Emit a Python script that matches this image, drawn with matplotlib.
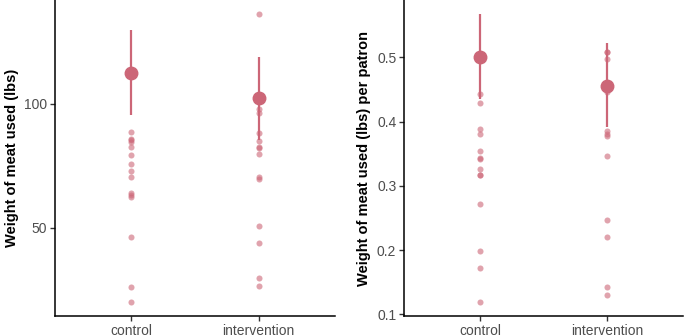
import matplotlib
matplotlib.use("Agg")
import matplotlib.pyplot as plt
import numpy as np

plt.rcParams['font.family'] = ['Liberation Sans', 'DejaVu Sans']

categories = ["control", "intervention"]

# Panel 1: weight of meat used (lbs)
w_control = [88.7, 86.0, 85.5, 84.4, 82.7, 79.5, 75.9, 73.0, 70.6, 64.0, 63.3, 62.6, 46.5, 26.2, 20.3]
w_intervention = [136.0, 97.7, 96.4, 88.3, 85.1, 82.3, 82.5, 79.6, 70.4, 69.8, 50.9, 44.1, 29.8, 26.6]
w_mean = [112.3, 102.4]
w_low = [95.3, 85.6]
w_high = [129.6, 118.8]

# Panel 2: weight of meat used (lbs) per patron
p_control = [0.443, 0.429, 0.388, 0.381, 0.354, 0.344, 0.342, 0.327, 0.317, 0.317, 0.272, 0.199, 0.172, 0.120]
p_intervention = [0.509, 0.508, 0.498, 0.446, 0.385, 0.381, 0.377, 0.347, 0.247, 0.220, 0.142, 0.130]
p_mean = [0.500, 0.4563]
p_low = [0.4355, 0.3914]
p_high = [0.567, 0.5224]

COL = "#CC6677"

fig = plt.figure(figsize=(6.85, 3.36), dpi=100)
ax1 = fig.add_axes([55/685, 20/336, 280/685, 316/336])
ax2 = fig.add_axes([404/685, 20/336, 279/685, 316/336])

def panel(ax, groups, means, lows, highs, ylabel, yticks, yticklabels):
    xs = np.arange(1, len(categories) + 1)
    for x, vals in zip(xs, groups):
        ax.scatter([x] * len(vals), vals, s=19, color=COL, alpha=0.6,
                   linewidths=0, zorder=2)
    means = np.array(means); lows = np.array(lows); highs = np.array(highs)
    ax.errorbar(xs, means, yerr=[means - lows, highs - means], fmt='o',
                color=COL, ecolor=COL, elinewidth=1.6, markersize=9,
                capsize=0, zorder=3)
    allv = np.concatenate([np.concatenate(groups), lows, highs])
    lo, hi = allv.min(), allv.max()
    pad = (hi - lo) * 0.05
    ax.set_ylim(lo - pad, hi + pad)
    ax.set_xlim(0.4, 2.6)
    ax.set_xticks(xs)
    ax.set_xticklabels(categories)
    ax.set_yticks(yticks)
    ax.set_yticklabels(yticklabels)
    ax.set_ylabel(ylabel, fontsize=10.5, fontweight='bold', labelpad=4)
    for s in ['top', 'right']:
        ax.spines[s].set_visible(False)
    for s in ['left', 'bottom']:
        ax.spines[s].set_linewidth(1.1)
        ax.spines[s].set_color('black')
    ax.tick_params(axis='both', labelsize=10, labelcolor='#4D4D4D',
                   color='#333333', length=3.5, width=1.0, pad=2)

panel(ax1, [w_control, w_intervention], w_mean, w_low, w_high,
      "Weight of meat used (lbs)", [50, 100], ["50", "100"])
panel(ax2, [p_control, p_intervention], p_mean, p_low, p_high,
      "Weight of meat used (lbs) per patron",
      [0.1, 0.2, 0.3, 0.4, 0.5], ["0.1", "0.2", "0.3", "0.4", "0.5"])

fig.savefig("out.png", dpi=100)
